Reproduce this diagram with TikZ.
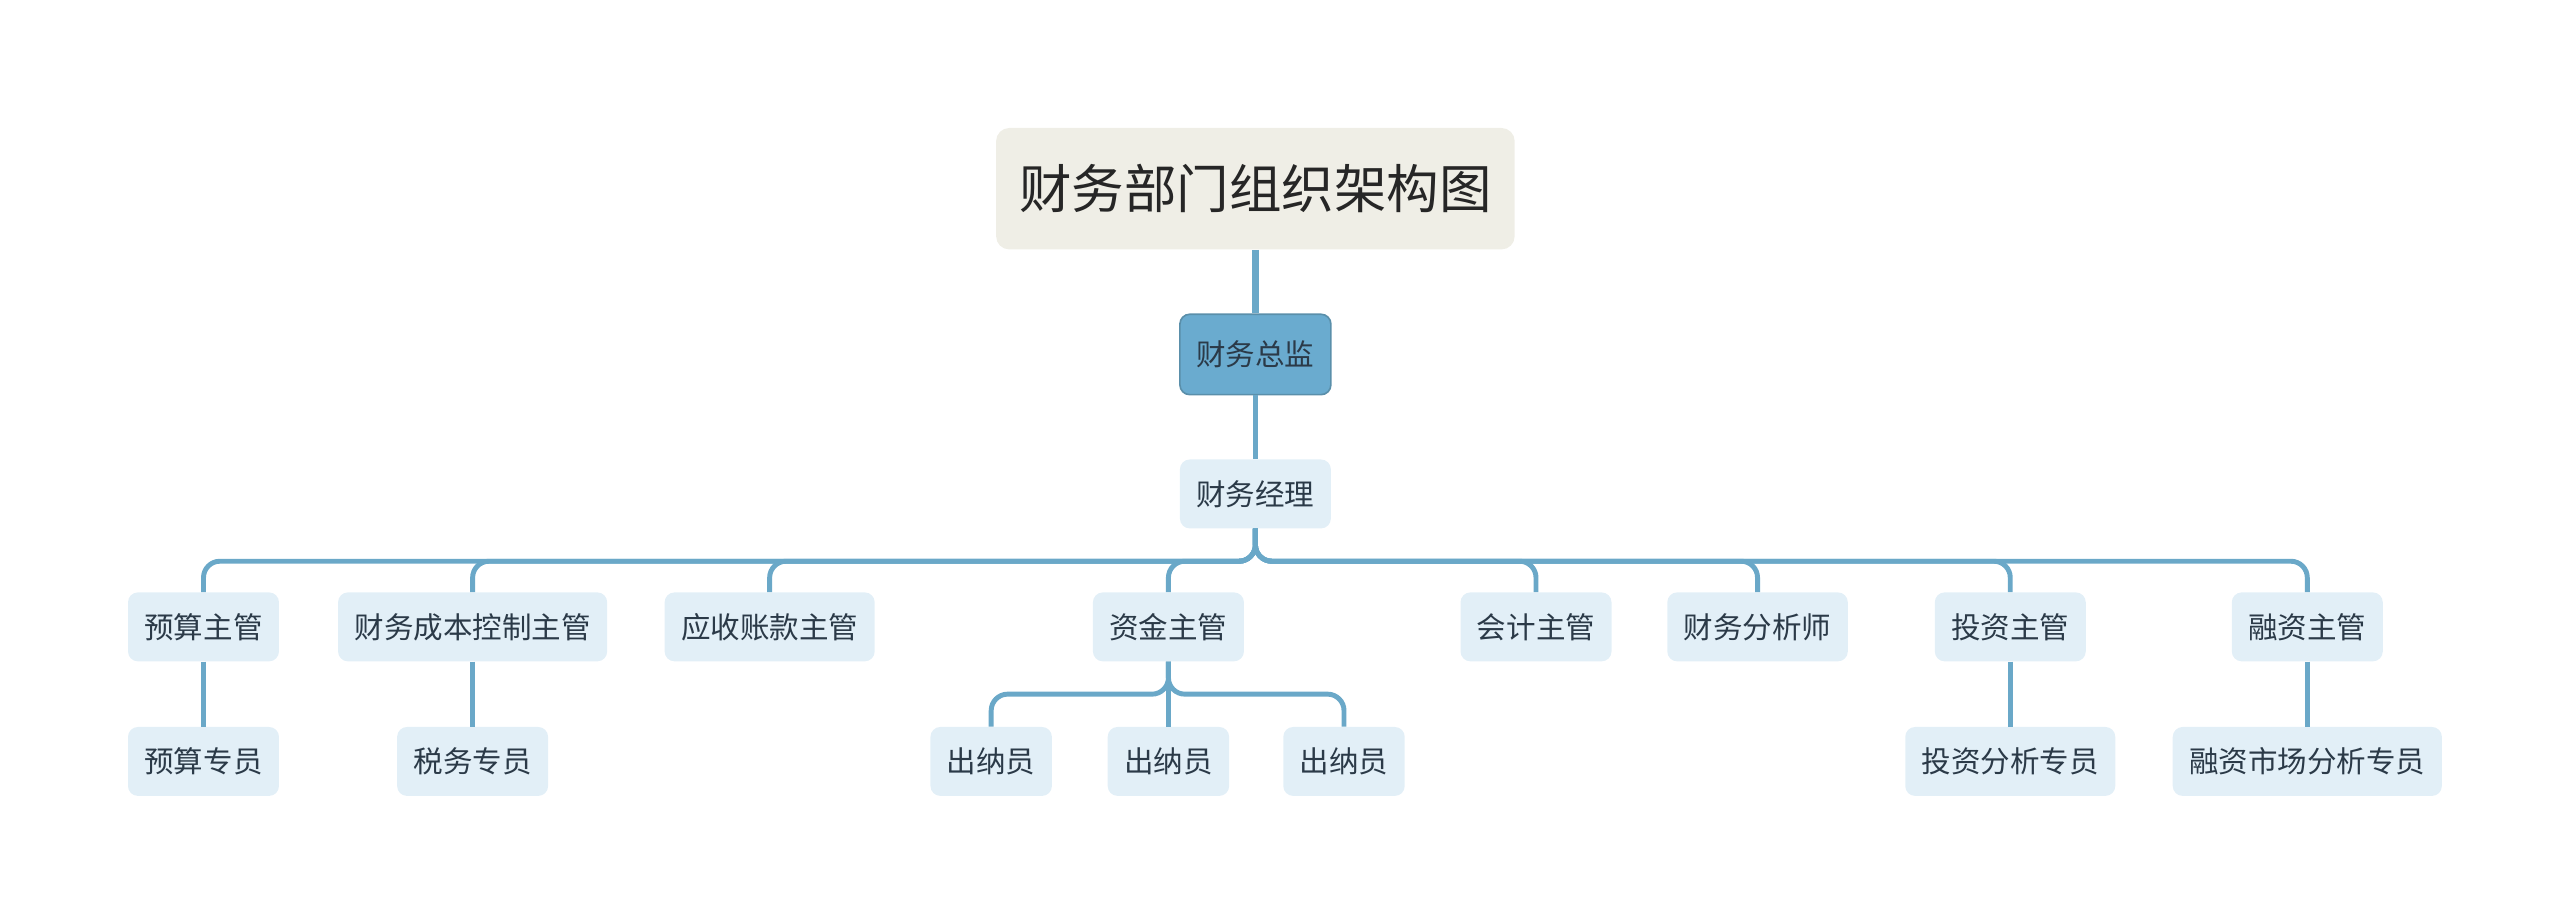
\documentclass[tikz,border=0pt]{standalone}
\usepackage{fontspec}
\setmainfont{Noto Sans CJK SC}
\definecolor{linkblue}{HTML}{6AA8C8}
\definecolor{leaffill}{HTML}{E2EFF7}
\definecolor{bossfill}{HTML}{6AABCF}
\definecolor{titlefill}{HTML}{EFEEE6}
\definecolor{txt}{HTML}{2B3A48}
\tikzset{
  leaf/.style={fill=leaffill, rounded corners=6pt, minimum height=42pt, inner xsep=10pt,
    text=txt, font=\fontsize{18}{22}\selectfont},
  link/.style={draw=linkblue, line width=3pt, rounded corners=10pt}
}
\begin{document}
\begin{tikzpicture}[x=1pt,y=-1pt]
\useasboundingbox (0,0) rectangle (1560,561);
% top
\node[fill=titlefill, rounded corners=8pt, minimum width=316pt, minimum height=74pt,
  text=black!85, font=\fontsize{32}{38}\selectfont] (title) at (765,115) {财务部门组织架构图};
\node[leaf, fill=bossfill, draw=linkblue!85!black, line width=1pt, minimum height=49pt] (boss) at (765,216) {财务总监};
\node[leaf] (mgr) at (765,301) {财务经理};
% second row
\node[leaf] (yusuan) at (124,382) {预算主管};
\node[leaf] (chengben) at (288,382) {财务成本控制主管};
\node[leaf] (yingshou) at (469,382) {应收账款主管};
\node[leaf] (zijin) at (712,382) {资金主管};
\node[leaf] (kuaiji) at (936,382) {会计主管};
\node[leaf] (fenxi) at (1071,382) {财务分析师};
\node[leaf] (touzi) at (1225,382) {投资主管};
\node[leaf] (rongzi) at (1406,382) {融资主管};
% third row
\node[leaf] (yusuanzy) at (124,464) {预算专员};
\node[leaf] (shuiwu) at (288,464) {税务专员};
\node[leaf] (chuna1) at (604,464) {出纳员};
\node[leaf] (chuna2) at (712,464) {出纳员};
\node[leaf] (chuna3) at (819,464) {出纳员};
\node[leaf] (touzizy) at (1225,464) {投资分析专员};
\node[leaf] (rongzizy) at (1406,464) {融资市场分析专员};
% connectors
\coordinate (bus) at (765,342);
\coordinate (bus2) at (712,423);
\draw[link, line width=4pt] (title) -- (boss);
\draw[link] (boss) -- (mgr);
\foreach \c in {yusuan,chengben,yingshou,zijin,kuaiji,fenxi,touzi,rongzi}
  \draw[link] (mgr.south) -- (mgr.south |- bus) -| (\c.north);
\foreach \c in {chuna1,chuna2,chuna3}
  \draw[link] (zijin.south) -- (zijin.south |- bus2) -| (\c.north);
\draw[link] (yusuan) -- (yusuanzy);
\draw[link] (chengben) -- (shuiwu);
\draw[link] (touzi) -- (touzizy);
\draw[link] (rongzi) -- (rongzizy);
\end{tikzpicture}
\end{document}
